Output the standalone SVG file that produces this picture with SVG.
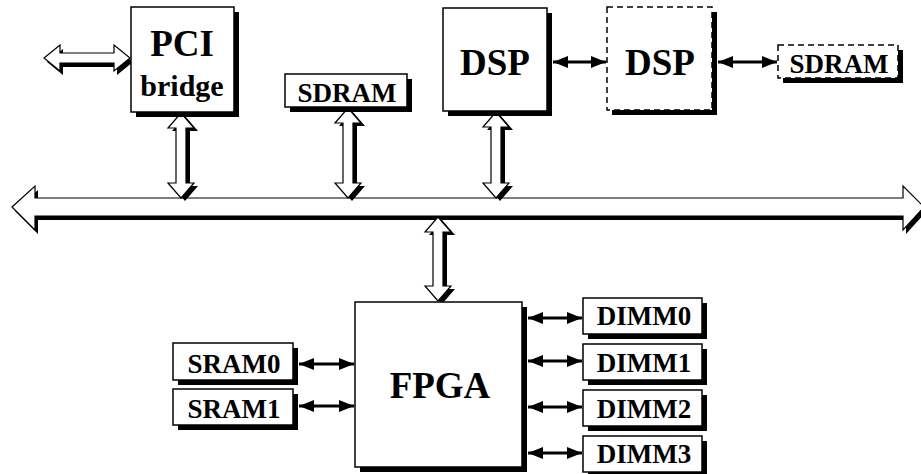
<svg xmlns="http://www.w3.org/2000/svg" width="921" height="474" viewBox="0 0 921 474">
<style>
.box{fill:#fff;stroke:#000;stroke-width:1.5}
.dash{fill:#fff;stroke:#000;stroke-width:1.5;stroke-dasharray:6 4}
.sh{fill:#000}
.hol{fill:#fff;stroke:#000;stroke-width:1.2;stroke-linejoin:miter}
.lbl{font-family:"Liberation Serif","Times New Roman",serif;font-weight:bold;fill:#000;text-anchor:middle}
.s{font-size:27px}
.b{font-size:37px}
.ln{stroke:#000;stroke-width:3;fill:none;marker-start:url(#ah);marker-end:url(#ah)}
</style>
<defs>
<marker id="ah" markerUnits="userSpaceOnUse" markerWidth="16" markerHeight="12" refX="15" refY="6" orient="auto-start-reverse">
<path d="M0,0 L15,6 L0,12 Z" fill="#000"/>
</marker>
</defs>
<g id="connectors">
<!-- main bus -->
<g id="bus">
<polygon class="sh" transform="translate(3,4)" points="12,207 35,186 35,198 903,198 903,186 924,207 903,230 903,216 35,216 35,230"/>
<polygon class="hol" points="12,207 35,186 35,198 903,198 903,186 924,207 903,230 903,216 35,216 35,230"/>
</g>
<!-- PCI external arrow -->
<polygon class="sh" transform="translate(3,4)" points="44,58 60,45 60,53 114,53 114,45 130,58 114,71 114,63 60,63 60,71"/>
<polygon class="hol" points="44,58 60,45 60,53 114,53 114,45 130,58 114,71 114,63 60,63 60,71"/>
<!-- PCI to bus -->
<polygon class="sh" transform="translate(4,3)" points="181,113 194,128 186,128 186,183 194,183 181,198 168,183 176,183 176,128 168,128"/>
<polygon class="hol" points="181,113 194,128 186,128 186,183 194,183 181,198 168,183 176,183 176,128 168,128"/>
<!-- SDRAM to bus -->
<polygon class="sh" transform="translate(4,3)" points="348,108 361,123 353,123 353,183 361,183 348,198 335,183 343,183 343,123 335,123"/>
<polygon class="hol" points="348,108 361,123 353,123 353,183 361,183 348,198 335,183 343,183 343,123 335,123"/>
<!-- DSP to bus -->
<polygon class="sh" transform="translate(4,3)" points="496,112 509,127 501,127 501,183 509,183 496,198 483,183 491,183 491,127 483,127"/>
<polygon class="hol" points="496,112 509,127 501,127 501,183 509,183 496,198 483,183 491,183 491,127 483,127"/>
<!-- bus to FPGA -->
<polygon class="sh" transform="translate(4,3)" points="438,217 451,232 443,232 443,286 451,286 438,301 425,286 433,286 433,232 425,232"/>
<polygon class="hol" points="438,217 451,232 443,232 443,286 451,286 438,301 425,286 433,286 433,232 425,232"/>
<!-- small double arrows -->
<line class="ln" x1="553" y1="62" x2="606" y2="62"/>
<line class="ln" x1="718" y1="62" x2="777" y2="62"/>
<line class="ln" x1="299" y1="364" x2="354" y2="364"/>
<line class="ln" x1="299" y1="406" x2="354" y2="406"/>
<line class="ln" x1="528" y1="318" x2="582" y2="318"/>
<line class="ln" x1="528" y1="361" x2="582" y2="361"/>
<line class="ln" x1="528" y1="407" x2="582" y2="407"/>
<line class="ln" x1="528" y1="453" x2="582" y2="453"/>
</g>
<g id="pci">
<rect class="sh" x="136" y="12" width="103" height="105"/>
<rect class="box" x="131" y="7" width="103" height="105"/>
<text class="lbl b" x="182" y="56">PCI</text>
<text class="lbl" style="font-size:30px" x="182" y="96">bridge</text>
</g>
<g id="sdram">
<rect class="sh" x="290" y="79" width="122" height="33"/>
<rect class="box" x="285" y="74" width="122" height="33"/>
<text class="lbl s" x="347" y="102">SDRAM</text>
</g>
<g id="dsp1">
<rect class="sh" x="448" y="13" width="104" height="103"/>
<rect class="box" x="443" y="8" width="104" height="103"/>
<text class="lbl b" x="495" y="75">DSP</text>
</g>
<g id="dsp2">
<rect class="sh" x="612" y="12" width="105" height="103"/>
<rect class="dash" x="607" y="7" width="105" height="103"/>
<text class="lbl b" x="660" y="75">DSP</text>
</g>
<g id="sdram2">
<rect class="sh" x="783" y="50" width="120" height="33"/>
<rect class="dash" x="778" y="45" width="120" height="33"/>
<text class="lbl s" x="839" y="73">SDRAM</text>
</g>
<g id="fpga">
<rect class="sh" x="360" y="307" width="167" height="165"/>
<rect class="box" x="355" y="302" width="167" height="165"/>
<text class="lbl b" x="440" y="398">FPGA</text>
</g>
<g id="sram0">
<rect class="sh" x="178" y="348" width="120" height="37"/>
<rect class="box" x="173" y="343" width="120" height="37"/>
<text class="lbl s" x="234" y="373">SRAM0</text>
</g>
<g id="sram1">
<rect class="sh" x="178" y="394" width="120" height="36"/>
<rect class="box" x="173" y="389" width="120" height="36"/>
<text class="lbl s" x="234" y="418">SRAM1</text>
</g>
<g id="dimm0">
<rect class="sh" x="588" y="303" width="119" height="36"/>
<rect class="box" x="583" y="298" width="119" height="36"/>
<text class="lbl s" x="644" y="325">DIMM0</text>
</g>
<g id="dimm1">
<rect class="sh" x="588" y="349" width="119" height="36"/>
<rect class="box" x="583" y="344" width="119" height="36"/>
<text class="lbl s" x="644" y="372">DIMM1</text>
</g>
<g id="dimm2">
<rect class="sh" x="588" y="395" width="119" height="36"/>
<rect class="box" x="583" y="390" width="119" height="36"/>
<text class="lbl s" x="644" y="418">DIMM2</text>
</g>
<g id="dimm3">
<rect class="sh" x="588" y="441" width="119" height="36"/>
<rect class="box" x="583" y="436" width="119" height="36"/>
<text class="lbl s" x="644" y="463">DIMM3</text>
</g>
</svg>
